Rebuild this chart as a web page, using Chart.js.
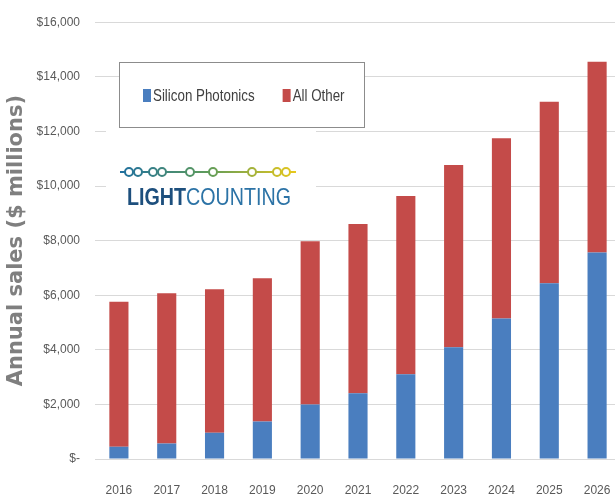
<!DOCTYPE html>
<html>
<head>
<meta charset="utf-8">
<title>Silicon Photonics sales</title>
<script src="https://cdn.jsdelivr.net/npm/chart.js@4/dist/chart.umd.min.js"></script>
<style>
  html, body { margin: 0; padding: 0; background: #fff; overflow: hidden; }
  #wrap { width: 630px; height: 500px; }
</style>
</head>
<body>
<div id="wrap"><canvas id="myChart" width="630" height="500"></canvas></div>
<script>
'use strict';

// annual sales, $ millions
let years = ['2016', '2017', '2018', '2019', '2020', '2021', '2022', '2023', '2024', '2025', '2026'];
let siliconPhotonics = [450, 570, 960, 1370, 2000, 2410, 3100, 4090, 5150, 6440, 7560];
let allOther = [5310, 5500, 5260, 5250, 5980, 6200, 6530, 6680, 6600, 6650, 6990];
let yTicks = [0, 2000, 4000, 6000, 8000, 10000, 12000, 14000, 16000];

let tickFont = 'Liberation Sans, Arial, sans-serif';

function money(v) {
  if (v === 0) {
    return '$-';
  }
  return '$' + v.toLocaleString('en-US');
}

// narrow lettering: draw text squeezed horizontally
function narrowText(ctx, text, x, y, squeeze) {
  ctx.save();
  ctx.translate(x, y);
  ctx.scale(squeeze, 1);
  ctx.fillText(text, 0, 0);
  ctx.restore();
  return ctx.measureText(text).width * squeeze;
}

// legend box sitting inside the plot
let boxLegend = {
  id: 'boxLegend',
  afterDatasetsDraw(chart) {
    let ctx = chart.ctx;
    ctx.save();
    ctx.fillStyle = '#fff';
    ctx.fillRect(119.5, 62.5, 245, 65);
    ctx.strokeStyle = '#8c8c8c';
    ctx.lineWidth = 1;
    ctx.strokeRect(119.5, 62.5, 245, 65);
    ctx.font = '17px ' + tickFont;
    ctx.textBaseline = 'middle';
    let x = 143;
    chart.data.datasets.forEach(function (ds) {
      ctx.fillStyle = ds.backgroundColor;
      ctx.fillRect(x, 89, 8, 13);
      ctx.fillStyle = '#404040';
      let w = narrowText(ctx, ds.label, x + 10, 96, 0.785);
      x += 10 + w + 28;
    });
    ctx.restore();
  }
};

// company logo: a chain of rings over the name
let logo = {
  id: 'logo',
  afterDatasetsDraw(chart) {
    let ctx = chart.ctx;
    ctx.save();
    ctx.fillStyle = '#fff';
    ctx.fillRect(106, 128, 210, 94);

    let grad = ctx.createLinearGradient(120, 0, 296, 0);
    grad.addColorStop(0, '#1f6f9f');
    grad.addColorStop(0.5, '#5f9c5a');
    grad.addColorStop(1, '#e8c81c');
    ctx.strokeStyle = grad;
    ctx.lineWidth = 2;
    ctx.beginPath();
    ctx.moveTo(120, 172);
    ctx.lineTo(296, 172);
    ctx.stroke();
    let rings = [129, 138, 153, 162, 190, 213, 252, 277, 286];
    rings.forEach(function (cx) {
      ctx.beginPath();
      ctx.arc(cx, 172, 4, 0, Math.PI * 2);
      ctx.fillStyle = '#fff';
      ctx.fill();
      ctx.stroke();
    });

    ctx.textBaseline = 'alphabetic';
    ctx.font = 'bold 24px ' + tickFont;
    ctx.fillStyle = '#1d4f7d';
    let w = narrowText(ctx, 'LIGHT', 127, 205, 0.82);
    ctx.font = '24px ' + tickFont;
    ctx.fillStyle = '#2c73a6';
    narrowText(ctx, 'COUNTING', 127 + w, 205, 0.82);
    ctx.restore();
  }
};

let chartStuff = {
  type: 'bar',
  data: {
    labels: years,
    datasets: [{
      label: 'Silicon Photonics',
      data: siliconPhotonics,
      backgroundColor: '#4a7ebf',
      categoryPercentage: 0.8,
      barPercentage: 0.5
    },
    {
      label: 'All Other',
      data: allOther,
      backgroundColor: '#c44b49',
      categoryPercentage: 0.8,
      barPercentage: 0.5
    }]
  },
  options: {
    responsive: false,
    animation: false,
    layout: {
      padding: { top: 22, right: 9, left: 0, bottom: 0 }
    },
    plugins: {
      legend: { display: false },
      tooltip: { enabled: false }
    },
    scales: {
      x: {
        stacked: true,
        grid: { display: false },
        border: { display: false },
        ticks: {
          color: '#595959',
          font: { family: tickFont, size: 12 },
          padding: 16,
          maxRotation: 0
        },
        afterFit(scale) {
          scale.height = 41;
        }
      },
      y: {
        stacked: true,
        min: 0,
        max: 16000,
        afterBuildTicks(scale) {
          scale.ticks = yTicks.map(function (v) { return { value: v }; });
        },
        grid: {
          color: '#d9d9d9',
          drawTicks: false
        },
        border: { display: false },
        ticks: {
          color: '#595959',
          font: { family: tickFont, size: 12 },
          padding: 15,
          callback: money
        },
        title: {
          display: true,
          text: 'Annual sales ($ millions)',
          color: '#7f7f7f',
          font: { family: 'DejaVu Sans', size: 21, weight: 'bold' },
          padding: { top: 4, bottom: 0 }
        },
        afterFit(scale) {
          scale.width = 95;
        }
      }
    }
  },
  plugins: [boxLegend, logo]
};

const ctx = document.getElementById('myChart').getContext('2d');
// eslint-disable-next-line no-undef
new Chart(ctx, chartStuff);
</script>
</body>
</html>
